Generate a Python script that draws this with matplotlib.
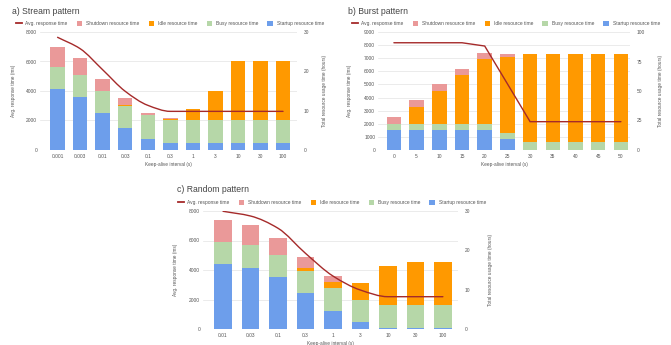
import matplotlib
matplotlib.use('Agg')
import matplotlib.pyplot as plt
from matplotlib.path import Path
from matplotlib.patches import PathPatch
import numpy as np

plt.rcParams['font.family'] = ['Liberation Sans', 'DejaVu Sans']

# colours of the stacked resource components and the response-time line
C_STARTUP = '#6d9eeb'
C_BUSY = '#b6d7a8'
C_IDLE = '#ff9900'
C_SHUTDOWN = '#ea9999'
C_LINE = '#a52a2a'
TXT = '#555555'

# a) stream pattern -- bars in hours, line in ms
stream_x = ['0.001', '0.003', '0.01', '0.03', '0.1', '0.3', '1', '3', '10', '30', '100']
stream_startup = [15.6, 13.5, 9.4, 5.6, 2.8, 1.7, 1.7, 1.7, 1.7, 1.7, 1.7]
stream_busy = [5.6, 5.6, 5.6, 5.6, 6.0, 5.8, 5.8, 5.8, 5.8, 5.8, 5.8]
stream_idle = [0, 0, 0, 0.2, 0.1, 0.4, 2.8, 7.5, 15, 15, 15]
stream_shutdown = [5.1, 4.3, 3.0, 1.7, 0.5, 0.35, 0, 0, 0, 0, 0]
stream_resp = [7640, 6870, 5440, 3980, 3030, 2620, 2620, 2620, 2620, 2620, 2620]

# b) burst pattern
burst_x = ['0', '5', '10', '15', '20', '25', '30', '35', '40', '45', '50']
burst_startup = [17.2, 17.2, 17.2, 17.2, 16.7, 8.9, 0, 0, 0, 0, 0]
burst_busy = [5.0, 5.0, 5.0, 5.0, 5.5, 5.5, 6.7, 6.7, 6.7, 6.7, 6.7]
burst_idle = [0, 14.5, 27.8, 41.1, 55.0, 64.5, 75, 75, 75, 75, 75]
burst_shutdown = [6.1, 5.5, 5.6, 5.6, 5.0, 2.8, 0, 0, 0, 0, 0]
burst_resp = [8180, 8180, 8180, 8180, 7930, 5050, 2160, 2160, 2160, 2160, 2160]

# c) random pattern
random_x = ['0.01', '0.03', '0.1', '0.3', '1', '3', '10', '30', '100']
random_startup = [16.5, 15.6, 13.1, 9.2, 4.7, 1.7, 0.3, 0.3, 0.3]
random_busy = [5.6, 5.8, 5.8, 5.6, 5.6, 5.6, 5.9, 5.9, 5.9]
random_idle = [0, 0, 0, 0.6, 1.7, 4.3, 9.7, 10.9, 10.9]
random_shutdown = [5.5, 5.0, 4.35, 3.0, 1.5, 0.2, 0, 0, 0]
random_resp = [7980, 7660, 6830, 5130, 3590, 2640, 2190, 2190, 2190]


def line_path(ys, smooth):
    xs = np.arange(len(ys), dtype=float)
    ys = np.asarray(ys, dtype=float)
    if not smooth:
        return Path(np.column_stack([xs, ys]))
    # monotone cubic tangents so flat stretches stay flat
    d = np.diff(ys)
    m = np.zeros_like(ys)
    m[0], m[-1] = d[0], d[-1]
    for i in range(1, len(ys) - 1):
        if d[i - 1] * d[i] > 0:
            m[i] = 2.0 / (1.0 / d[i - 1] + 1.0 / d[i])
    verts = [(xs[0], ys[0])]
    codes = [Path.MOVETO]
    for i in range(len(ys) - 1):
        verts += [(xs[i] + 1 / 3, ys[i] + m[i] / 3),
                  (xs[i + 1] - 1 / 3, ys[i + 1] - m[i + 1] / 3),
                  (xs[i + 1], ys[i + 1])]
        codes += [Path.CURVE4] * 3
    return Path(verts, codes)


def panel(rect, title, title_xy, cats, startup, busy, idle, shutdown, resp,
          ms_max, ms_step, h_max, h_step, smooth, lab_l, lab_r, xlim, leg_x,
          width=0.64):
    ax = fig.add_axes(rect)
    ax2 = ax.twinx()
    ax2.set_zorder(ax.get_zorder() + 1)
    ax2.patch.set_visible(False)

    x = np.arange(len(cats))
    bottom = np.zeros(len(cats))
    for vals, col, lab in [(startup, C_STARTUP, 'Startup resource time'),
                           (busy, C_BUSY, 'Busy resource time'),
                           (idle, C_IDLE, 'Idle resource time'),
                           (shutdown, C_SHUTDOWN, 'Shutdown resource time')]:
        ax2.bar(x, vals, width, bottom=bottom, color=col, label=lab, linewidth=0)
        bottom += np.asarray(vals)

    # response time is on the left scale, drawn above the bars
    patch = PathPatch(line_path(resp, smooth), fill=False, edgecolor=C_LINE,
                      linewidth=1.0, transform=ax.transData, capstyle='round')
    ax2.add_patch(patch)

    ax.set_ylim(0, ms_max)
    ax2.set_ylim(0, h_max)
    ax.set_xlim(*xlim)
    ax.set_yticks(np.arange(0, ms_max + 1, ms_step))
    ax2.set_yticks(np.arange(0, h_max + 1, h_step))
    ax.set_xticks(x)
    ax.set_xticklabels(cats)

    for a in (ax, ax2):
        for s in a.spines.values():
            s.set_visible(False)
        a.tick_params(length=0, labelsize=3.5, labelcolor=TXT)
    ax.tick_params(axis='y', pad=2)
    ax.tick_params(axis='x', pad=3)
    ax2.tick_params(axis='y', pad=5)

    ax.grid(axis='y', color='#e3e3e3', linewidth=0.5)
    ax.set_axisbelow(True)
    ax.axhline(0, color='#9e9e9e', linewidth=0.6, zorder=0.5)

    ax.set_xlabel('Keep-alive interval (s)', fontsize=3.4, color=TXT, labelpad=2)
    ax.set_ylabel('Avg. response time (ms)', fontsize=3.4, color=TXT)
    ax2.set_ylabel('Total resource usage time (hours)', fontsize=3.4, color=TXT,
                   rotation=90)
    ax.yaxis.set_label_coords(lab_l, 0.5)
    ax2.yaxis.set_label_coords(lab_r, 0.5)

    handles, labels = ax2.get_legend_handles_labels()
    line_h = plt.Line2D([], [], color=C_LINE, linewidth=1.3)
    order = [line_h] + handles[::-1]
    names = ['Avg. response time'] + labels[::-1]
    ax2.legend(order, names, loc='center', bbox_to_anchor=(leg_x, 1.068), ncol=5,
               frameon=False, fontsize=3.5, handlelength=1.1, handleheight=1.1,
               handletextpad=0.8, columnspacing=1.9, borderaxespad=0,
               labelcolor=TXT)

    fig.text(title_xy[0] / 671, 1 - title_xy[1] / 345, title, fontsize=6.2,
             color='#444444', va='center', ha='left')


fig = plt.figure(figsize=(6.71, 3.45), dpi=100)
fig.patch.set_facecolor('white')

panel([40 / 671, 1 - 150 / 345, 257 / 671, 118 / 345], 'a) Stream pattern', (12, 11),
      stream_x, stream_startup, stream_busy, stream_idle, stream_shutdown, stream_resp,
      8000, 2000, 30, 10, True, -0.093, 1.097, (-0.78, 10.62), 0.506)

panel([378 / 671, 1 - 150 / 345, 252 / 671, 118 / 345], 'b) Burst pattern', (348, 11),
      burst_x, burst_startup, burst_busy, burst_idle, burst_shutdown, burst_resp,
      9000, 1000, 100, 25, False, -0.103, 1.11, (-0.7, 10.4), 0.508)

panel([203 / 671, 1 - 329 / 345, 255 / 671, 118 / 345], 'c) Random pattern', (177, 190),
      random_x, random_startup, random_busy, random_idle, random_shutdown, random_resp,
      8000, 2000, 30, 10, True, -0.098, 1.118, (-0.73, 8.55), 0.506)

fig.savefig('out.png', dpi=100)
